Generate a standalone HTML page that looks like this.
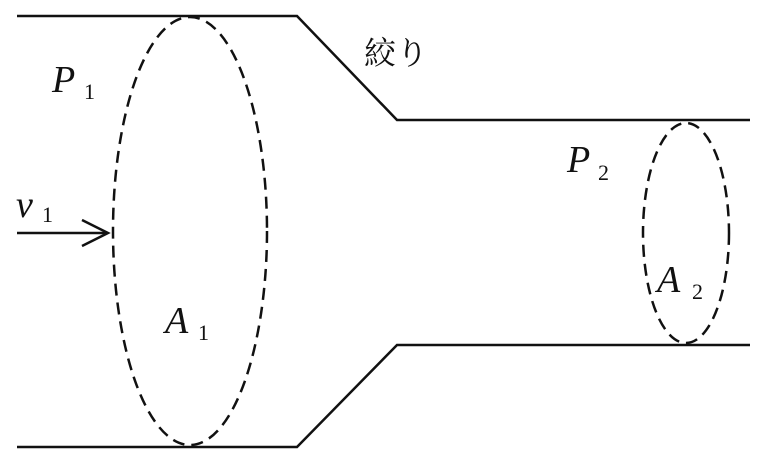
<!DOCTYPE html>
<html><head><meta charset="utf-8"><style>
html,body{margin:0;padding:0;background:#fff;}
svg{display:block;}
</style></head><body>
<svg width="768" height="473" viewBox="0 0 768 473" xmlns="http://www.w3.org/2000/svg">
<g stroke="#111" stroke-width="2.5" fill="none">
<polyline points="17,16 297,16 397,120 750,120"/>
<polyline points="17,447 297,447 397,345 750,345"/>
<ellipse cx="190" cy="231" rx="77" ry="214" stroke-dasharray="12,7"/>
<ellipse cx="686" cy="233" rx="43" ry="110" stroke-dasharray="12,7"/>
<line x1="17" y1="233" x2="108" y2="233"/>
<polyline points="82,220 108,233 82,246"/>
</g>
<g font-family="Liberation Serif, serif" font-style="italic" fill="#111" font-size="38">
<text x="52" y="92">P</text>
<text x="16" y="217">v</text>
<text x="165" y="333">A</text>
<text x="567" y="172">P</text>
<text x="657" y="292">A</text>
</g>
<g font-family="Liberation Serif, serif" fill="#111" font-size="22">
<text x="84" y="99">1</text>
<text x="42" y="222">1</text>
<text x="198" y="340">1</text>
<text x="598" y="180">2</text>
<text x="692" y="299">2</text>
</g>
<text x="364" y="64" font-family="Liberation Serif, Noto Serif CJK SC, serif" font-size="32" fill="#111">絞り</text>
</svg>
</body></html>
